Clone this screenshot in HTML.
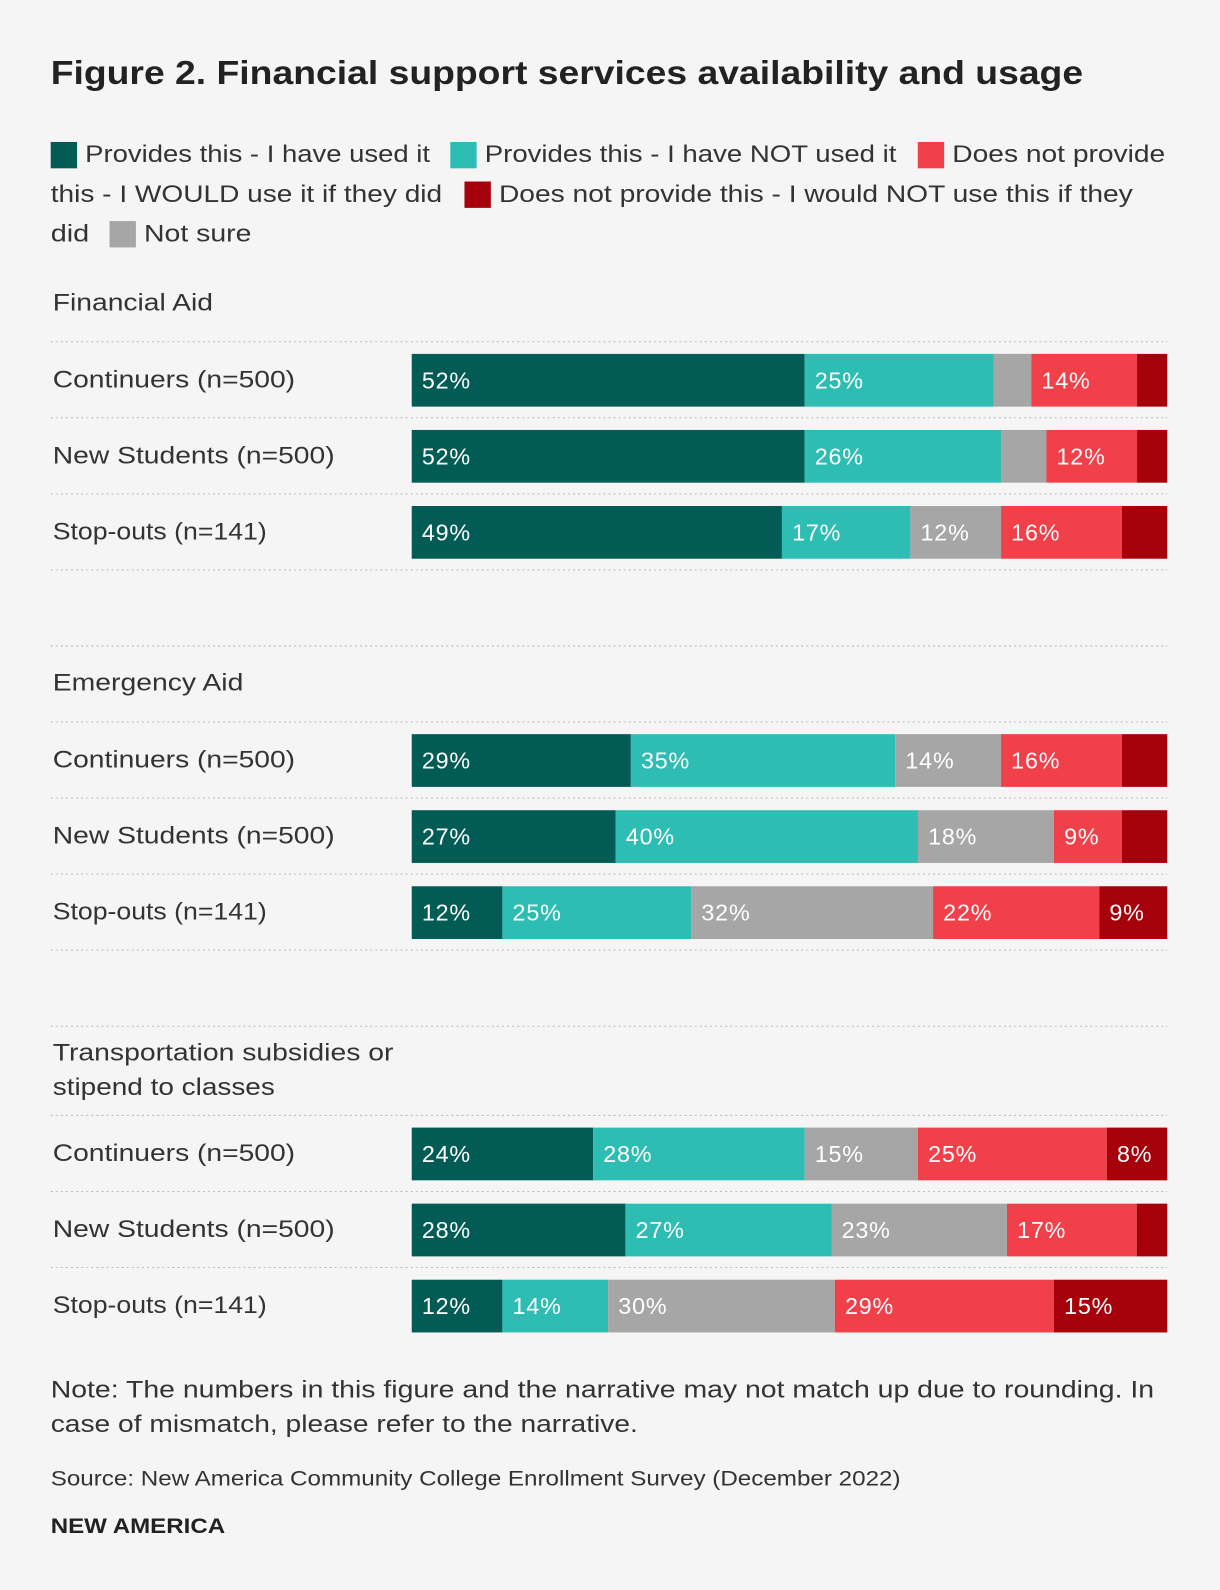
<!DOCTYPE html>
<html><head><meta charset="utf-8"><style>
html,body{margin:0;padding:0;background:#f5f5f5;}
svg{display:block;font-family:"Liberation Sans",sans-serif;}
</style></head><body>
<svg id="chart" width="1220" height="1590" viewBox="0 0 1203 1568" preserveAspectRatio="none" xmlns="http://www.w3.org/2000/svg">
<rect width="1203" height="1568" fill="#f5f5f5"/>
<text x="50" y="83" font-size="33" font-weight="bold" fill="#222" textLength="1018" lengthAdjust="spacingAndGlyphs">Figure 2. Financial support services availability and usage</text>
<g font-size="24" fill="#333">
<rect x="50" y="140" width="26" height="26" fill="#025c55"/><text x="84" y="160" textLength="340" lengthAdjust="spacingAndGlyphs">Provides this - I have used it</text>
<rect x="444" y="140" width="26" height="26" fill="#2ebdb3"/><text x="478" y="160" textLength="406" lengthAdjust="spacingAndGlyphs">Provides this - I have NOT used it</text>
<rect x="905" y="140" width="26" height="26" fill="#f2404a"/><text x="939" y="160" textLength="210" lengthAdjust="spacingAndGlyphs">Does not provide</text>
<text x="50" y="199" textLength="386" lengthAdjust="spacingAndGlyphs">this - I WOULD use it if they did</text>
<rect x="458" y="179" width="26" height="26" fill="#a6000b"/><text x="492" y="199" textLength="625" lengthAdjust="spacingAndGlyphs">Does not provide this - I would NOT use this if they</text>
<text x="50" y="238" textLength="38" lengthAdjust="spacingAndGlyphs">did</text>
<rect x="108" y="218" width="26" height="26" fill="#a6a6a6"/><text x="142" y="238" textLength="106" lengthAdjust="spacingAndGlyphs">Not sure</text>
</g>
<g id="plot"></g>
<text x="50" y="1378" font-size="24" fill="#333" textLength="1088" lengthAdjust="spacingAndGlyphs">Note: The numbers in this figure and the narrative may not match up due to rounding. In</text>
<text x="50" y="1412" font-size="24" fill="#333" textLength="579" lengthAdjust="spacingAndGlyphs">case of mismatch, please refer to the narrative.</text>
<text x="50" y="1465" font-size="21" fill="#333" textLength="838" lengthAdjust="spacingAndGlyphs">Source: New America Community College Enrollment Survey (December 2022)</text>
<text x="50" y="1512" font-size="21" font-weight="bold" fill="#222" textLength="172" lengthAdjust="spacingAndGlyphs">NEW AMERICA</text>
</svg>
<script>
const groups = [["Financial Aid"],["Emergency Aid"],["Transportation subsidies or","stipend to classes"]];
const groupLens = [[158],[188],[336,219]];
const rowLabels = ["Continuers (n=500)","New Students (n=500)","Stop-outs (n=141)"];
const rowLens = [239,278,211];
const usedVals =    [[52,52,49],[29,27,12],[24,28,12]];
const notUsedVals = [[25,26,17],[35,40,25],[28,27,14]];
const notSureVals = [[5,6,12],[14,18,32],[15,23,30]];
const wouldVals =   [[14,12,16],[16,9,22],[25,17,29]];
const wouldNotVals= [[4,4,6],[6,6,9],[8,4,15]];
const seriesColors = ["#025c55","#2ebdb3","#a6a6a6","#f2404a","#a6000b"];
const seriesNames = ["used","not-used","not-sure","would-use","would-not-use"];
const X0 = 406, X1 = 1151;
const ns = "http://www.w3.org/2000/svg";
const plot = document.getElementById('plot');
function mk(tag, attrs){const e=document.createElementNS(ns,tag);for(const k in attrs)e.setAttribute(k,attrs[k]);return e;}
function xScale(v,total){return X0 + (X1-X0)*v/total;}
const groupTops = [337, 712, 1100];
const headerY = [[306],[681],[1046,1080]];
groupTops.forEach((top,g)=>{
  if(g>0){const yy=top-75-(g==2?13:0);const l=mk('line',{x1:50,x2:1151,y1:yy,y2:yy,stroke:'#bbb','stroke-dasharray':'2,3'});
    
    
    plot.appendChild(l);}
  groups[g].forEach((t,i)=>{const tx=mk('text',{x:52,y:headerY[g][i],'font-size':24,fill:'#333',textLength:groupLens[g][i],lengthAdjust:'spacingAndGlyphs'});tx.textContent=t;
    
    
    plot.appendChild(tx);});
  for(let r=0;r<3;r++){
    const ly = top + r*75;
    const line=mk('line',{x1:50,x2:1151,y1:ly,y2:ly,stroke:'#bbb','stroke-dasharray':'2,3'});
    
    
    plot.appendChild(line);
    const lab=mk('text',{x:52,y:ly+45,'font-size':24,fill:'#333',textLength:rowLens[r],lengthAdjust:'spacingAndGlyphs'});lab.textContent=rowLabels[r];
    
    
    plot.appendChild(lab);
    const vals=[usedVals[g][r],notUsedVals[g][r],notSureVals[g][r],wouldVals[g][r],wouldNotVals[g][r]];
    const total=vals.reduce((a,b)=>a+b,0);
    let cum=0;
    vals.forEach((v,s)=>{
      const xa=xScale(cum,total), xb=xScale(cum+v,total);
      const rect=mk('rect',{x:xa,y:ly+12,width:xb-xa,height:52,fill:seriesColors[s]});
      
      
      plot.appendChild(rect);
      if(v>=7){const t=mk('text',{x:xa+10,y:ly+46,'font-size':23,fill:'#fff','letter-spacing':'0.8'});t.textContent=v+'%';
        
        
        plot.appendChild(t);}
      cum+=v;
    });
  }
  const bl=mk('line',{x1:50,x2:1151,y1:top+225,y2:top+225,stroke:'#bbb','stroke-dasharray':'2,3'});
  
  
  if(g<2)plot.appendChild(bl);
});
</script>
</body></html>
